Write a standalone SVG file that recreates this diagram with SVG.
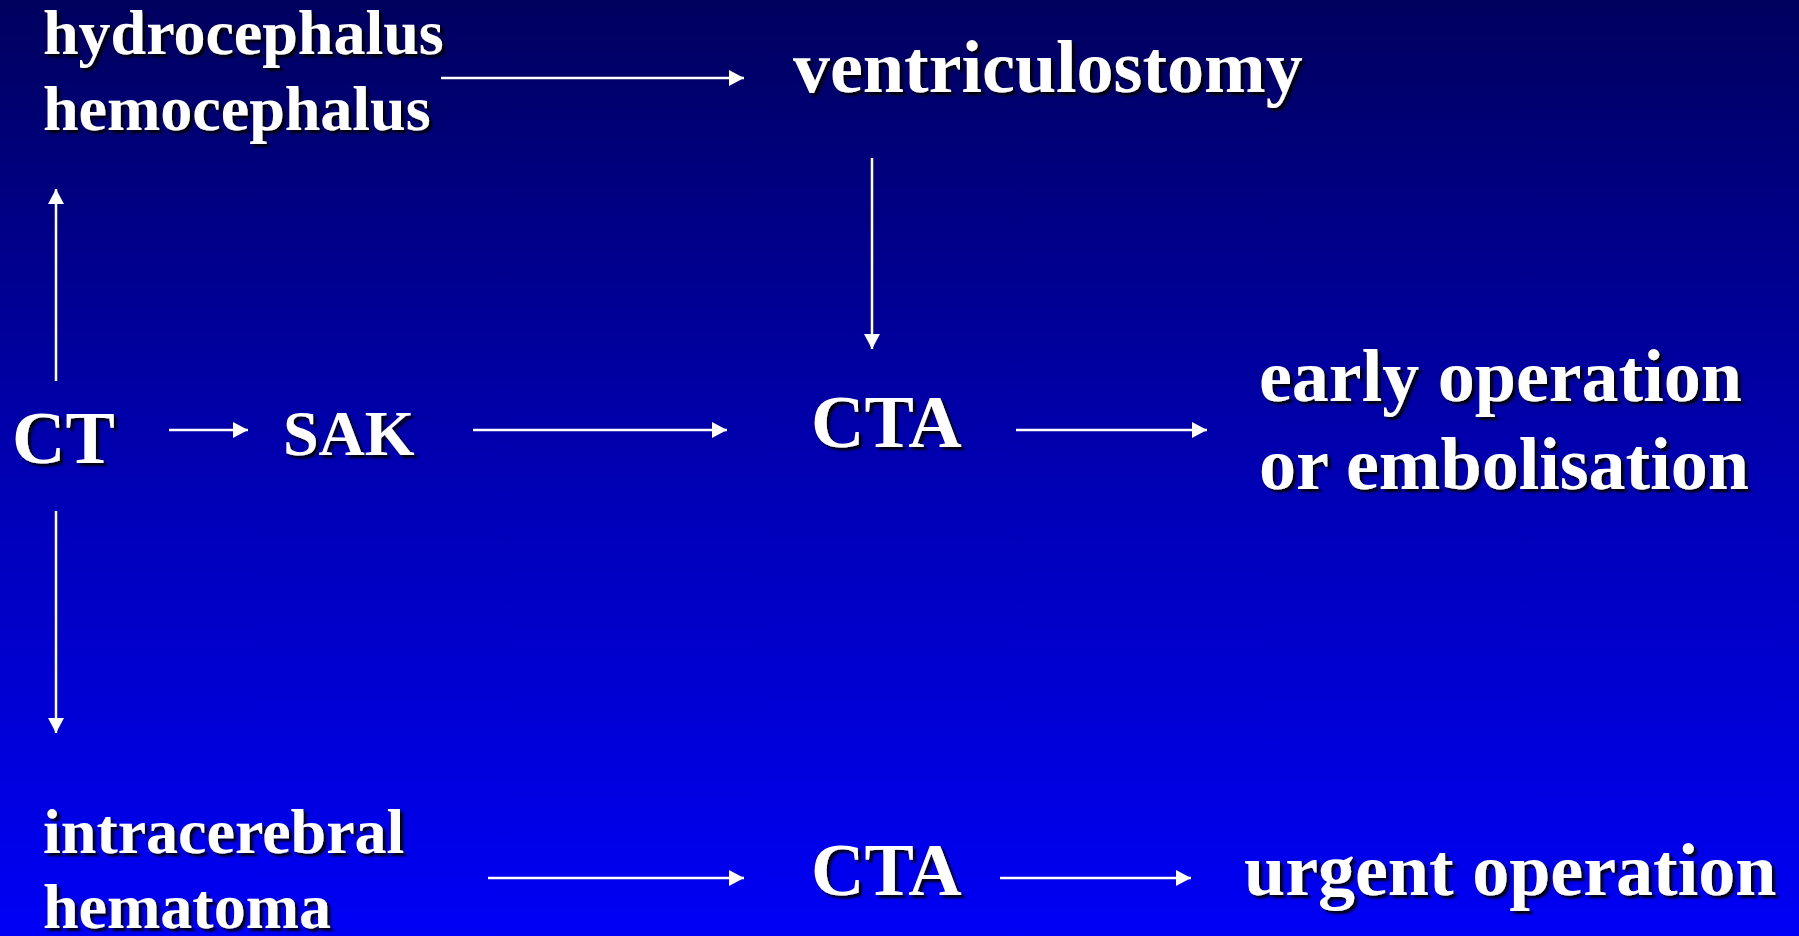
<svg xmlns="http://www.w3.org/2000/svg" width="1799" height="936" viewBox="0 0 1799 936">
  <defs>
    <linearGradient id="bg" x1="0" y1="0" x2="0" y2="1">
      <stop offset="0" stop-color="#00005E"/>
      <stop offset="0.5" stop-color="#0000B2"/>
      <stop offset="1" stop-color="#0000F6"/>
    </linearGradient>
    <filter id="shadow" x="-10%" y="-20%" width="120%" height="150%">
      <feDropShadow dx="3" dy="3" stdDeviation="1.2" flood-color="#000000" flood-opacity="0.9"/>
    </filter>
    <marker id="ah" viewBox="0 0 15 16" refX="15" refY="8" markerWidth="15" markerHeight="16" markerUnits="userSpaceOnUse" orient="auto">
      <path d="M0,0 L15,8 L0,16 Z" fill="#FFFFFF"/>
    </marker>
  </defs>
  <style>
    .t { font-family: "Liberation Serif", "Times New Roman", serif; font-weight: bold; fill: #FFFFFF; filter: url(#shadow); }
    .s { font-size: 64px; }
    .l { font-size: 74px; }
    .c { fill: none; stroke: #FFFFFF; stroke-width: 2.5; marker-end: url(#ah); }
  </style>
  <rect x="0" y="0" width="1799" height="936" fill="url(#bg)"/>

  <g id="connectors">
    <line class="c" x1="441" y1="78" x2="744" y2="78"/>
    <line class="c" x1="872" y1="158" x2="872" y2="349"/>
    <line class="c" x1="56" y1="381" x2="56" y2="189"/>
    <line class="c" x1="169" y1="430" x2="248" y2="430"/>
    <line class="c" x1="473" y1="430" x2="727" y2="430"/>
    <line class="c" x1="1016" y1="430" x2="1207" y2="430"/>
    <line class="c" x1="56" y1="511" x2="56" y2="733"/>
    <line class="c" x1="488" y1="878" x2="744" y2="878"/>
    <line class="c" x1="1000" y1="878" x2="1191" y2="878"/>
  </g>

  <g id="hydro">
    <text class="t s" x="43" y="54">hydrocephalus</text>
    <text class="t s" x="43" y="130">hemocephalus</text>
  </g>
  <g id="ventriculostomy">
    <text class="t l" x="793" y="92">ventriculostomy</text>
  </g>
  <g id="ct">
    <text class="t l" x="12" y="463">CT</text>
  </g>
  <g id="sak">
    <text class="t s" x="283" y="455">SAK</text>
  </g>
  <g id="cta1">
    <text class="t l" x="811" y="447">CTA</text>
  </g>
  <g id="early">
    <text class="t l" x="1259" y="401">early operation</text>
    <text class="t l" x="1259" y="489">or embolisation</text>
  </g>
  <g id="ich">
    <text class="t s" x="43" y="853">intracerebral</text>
    <text class="t s" x="43" y="928">hematoma</text>
  </g>
  <g id="cta2">
    <text class="t l" x="811" y="895">CTA</text>
  </g>
  <g id="urgent">
    <text class="t l" x="1244" y="895">urgent operation</text>
  </g>
</svg>
